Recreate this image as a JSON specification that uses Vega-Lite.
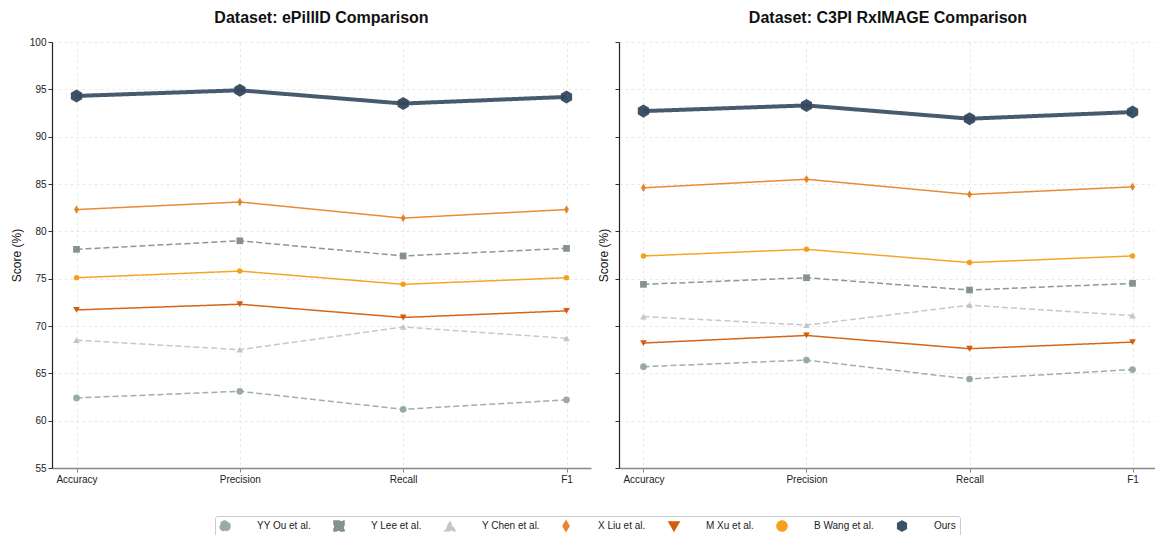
{
  "$schema": "https://vega.github.io/schema/vega-lite/v6.json",
  "padding": {"left": 10, "top": 9, "right": 0, "bottom": 0},
  "background": "white",
  "data": {"values": [
    {"dataset": "ePillID", "method": "YY Ou et al.", "metric": "Accuracy", "score": 62.4},
    {"dataset": "ePillID", "method": "YY Ou et al.", "metric": "Precision", "score": 63.1},
    {"dataset": "ePillID", "method": "YY Ou et al.", "metric": "Recall", "score": 61.2},
    {"dataset": "ePillID", "method": "YY Ou et al.", "metric": "F1", "score": 62.2},
    {"dataset": "ePillID", "method": "Y Lee et al.", "metric": "Accuracy", "score": 78.1},
    {"dataset": "ePillID", "method": "Y Lee et al.", "metric": "Precision", "score": 79.0},
    {"dataset": "ePillID", "method": "Y Lee et al.", "metric": "Recall", "score": 77.4},
    {"dataset": "ePillID", "method": "Y Lee et al.", "metric": "F1", "score": 78.2},
    {"dataset": "ePillID", "method": "Y Chen et al.", "metric": "Accuracy", "score": 68.5},
    {"dataset": "ePillID", "method": "Y Chen et al.", "metric": "Precision", "score": 67.5},
    {"dataset": "ePillID", "method": "Y Chen et al.", "metric": "Recall", "score": 69.9},
    {"dataset": "ePillID", "method": "Y Chen et al.", "metric": "F1", "score": 68.7},
    {"dataset": "ePillID", "method": "X Liu et al.", "metric": "Accuracy", "score": 82.3},
    {"dataset": "ePillID", "method": "X Liu et al.", "metric": "Precision", "score": 83.1},
    {"dataset": "ePillID", "method": "X Liu et al.", "metric": "Recall", "score": 81.4},
    {"dataset": "ePillID", "method": "X Liu et al.", "metric": "F1", "score": 82.3},
    {"dataset": "ePillID", "method": "M Xu et al.", "metric": "Accuracy", "score": 71.7},
    {"dataset": "ePillID", "method": "M Xu et al.", "metric": "Precision", "score": 72.3},
    {"dataset": "ePillID", "method": "M Xu et al.", "metric": "Recall", "score": 70.9},
    {"dataset": "ePillID", "method": "M Xu et al.", "metric": "F1", "score": 71.6},
    {"dataset": "ePillID", "method": "B Wang et al.", "metric": "Accuracy", "score": 75.1},
    {"dataset": "ePillID", "method": "B Wang et al.", "metric": "Precision", "score": 75.8},
    {"dataset": "ePillID", "method": "B Wang et al.", "metric": "Recall", "score": 74.4},
    {"dataset": "ePillID", "method": "B Wang et al.", "metric": "F1", "score": 75.1},
    {"dataset": "ePillID", "method": "Ours", "metric": "Accuracy", "score": 94.3},
    {"dataset": "ePillID", "method": "Ours", "metric": "Precision", "score": 94.9},
    {"dataset": "ePillID", "method": "Ours", "metric": "Recall", "score": 93.5},
    {"dataset": "ePillID", "method": "Ours", "metric": "F1", "score": 94.2},
    {"dataset": "C3PI", "method": "YY Ou et al.", "metric": "Accuracy", "score": 65.7},
    {"dataset": "C3PI", "method": "YY Ou et al.", "metric": "Precision", "score": 66.4},
    {"dataset": "C3PI", "method": "YY Ou et al.", "metric": "Recall", "score": 64.4},
    {"dataset": "C3PI", "method": "YY Ou et al.", "metric": "F1", "score": 65.4},
    {"dataset": "C3PI", "method": "Y Lee et al.", "metric": "Accuracy", "score": 74.4},
    {"dataset": "C3PI", "method": "Y Lee et al.", "metric": "Precision", "score": 75.1},
    {"dataset": "C3PI", "method": "Y Lee et al.", "metric": "Recall", "score": 73.8},
    {"dataset": "C3PI", "method": "Y Lee et al.", "metric": "F1", "score": 74.5},
    {"dataset": "C3PI", "method": "Y Chen et al.", "metric": "Accuracy", "score": 71.0},
    {"dataset": "C3PI", "method": "Y Chen et al.", "metric": "Precision", "score": 70.1},
    {"dataset": "C3PI", "method": "Y Chen et al.", "metric": "Recall", "score": 72.2},
    {"dataset": "C3PI", "method": "Y Chen et al.", "metric": "F1", "score": 71.1},
    {"dataset": "C3PI", "method": "X Liu et al.", "metric": "Accuracy", "score": 84.6},
    {"dataset": "C3PI", "method": "X Liu et al.", "metric": "Precision", "score": 85.5},
    {"dataset": "C3PI", "method": "X Liu et al.", "metric": "Recall", "score": 83.9},
    {"dataset": "C3PI", "method": "X Liu et al.", "metric": "F1", "score": 84.7},
    {"dataset": "C3PI", "method": "M Xu et al.", "metric": "Accuracy", "score": 68.2},
    {"dataset": "C3PI", "method": "M Xu et al.", "metric": "Precision", "score": 69.0},
    {"dataset": "C3PI", "method": "M Xu et al.", "metric": "Recall", "score": 67.6},
    {"dataset": "C3PI", "method": "M Xu et al.", "metric": "F1", "score": 68.3},
    {"dataset": "C3PI", "method": "B Wang et al.", "metric": "Accuracy", "score": 77.4},
    {"dataset": "C3PI", "method": "B Wang et al.", "metric": "Precision", "score": 78.1},
    {"dataset": "C3PI", "method": "B Wang et al.", "metric": "Recall", "score": 76.7},
    {"dataset": "C3PI", "method": "B Wang et al.", "metric": "F1", "score": 77.4},
    {"dataset": "C3PI", "method": "Ours", "metric": "Accuracy", "score": 92.7},
    {"dataset": "C3PI", "method": "Ours", "metric": "Precision", "score": 93.3},
    {"dataset": "C3PI", "method": "Ours", "metric": "Recall", "score": 91.9},
    {"dataset": "C3PI", "method": "Ours", "metric": "F1", "score": 92.6}
  ]},
  "spacing": 6,
  "hconcat": [
    {
      "width": 539,
      "height": 426,
      "title": {"text": "Dataset: ePillID Comparison", "offset": 11},
      "transform": [{"filter": "datum.dataset === 'ePillID'"}],
      "layer": [
        {
          "mark": {"type": "line", "opacity": 0.9},
          "encoding": {
            "x": {"field": "metric", "type": "nominal", "scale": {"type": "point", "domain": ["Accuracy", "Precision", "Recall", "F1"], "padding": 0.15}, "axis": {"title": null, "labelAngle": 0}},
            "y": {"field": "score", "type": "quantitative", "scale": {"domain": [55, 100], "nice": false, "zero": false}, "axis": {"title": "Score (%)", "values": [55, 60, 65, 70, 75, 80, 85, 90, 95, 100], "titlePadding": 6}},
            "color": {
              "field": "method", "type": "nominal",
              "scale": {"domain": ["YY Ou et al.", "Y Lee et al.", "Y Chen et al.", "X Liu et al.", "M Xu et al.", "B Wang et al.", "Ours"], "range": ["#95a5a6", "#7f8c8d", "#bdc3c7", "#e67e22", "#d35400", "#f39c12", "#34495e"]},
              "legend": {
                "orient": "none", "legendX": 163, "legendY": 474, "direction": "horizontal", "title": null,
                "labelFontSize": 10, "labelColor": "#222222", "labelOffset": 26, "columnPadding": 20,
                "padding": 4, "strokeColor": "#cccccc", "cornerRadius": 2, "symbolSize": 100, "symbolOpacity": 0.95
              }
            },
            "strokeDash": {"field": "method", "type": "nominal", "legend": null, "scale": {"domain": ["YY Ou et al.", "Y Lee et al.", "Y Chen et al.", "X Liu et al.", "M Xu et al.", "B Wang et al.", "Ours"], "range": [[6, 3], [6, 3], [6, 3], [1, 0], [1, 0], [1, 0], [1, 0]]}},
            "strokeWidth": {"condition": {"test": "datum.method === 'Ours'", "value": 4}, "value": 1.5}
          }
        },
        {
          "mark": {"type": "point", "filled": true, "opacity": 0.95},
          "encoding": {
            "x": {"field": "metric", "type": "nominal"},
            "y": {"field": "score", "type": "quantitative"},
            "color": {"field": "method", "type": "nominal", "legend": null},
            "shape": {"field": "method", "type": "nominal", "legend": null, "scale": {"domain": ["YY Ou et al.", "Y Lee et al.", "Y Chen et al.", "X Liu et al.", "M Xu et al.", "B Wang et al.", "Ours"], "range": ["circle", "square", "triangle-up", "M0,-1L0.6,0L0,1L-0.6,0Z", "triangle-down", "circle", "M0,-1L0.866,-0.5L0.866,0.5L0,1L-0.866,0.5L-0.866,-0.5Z"]}},
            "size": {"condition": [{"test": "datum.method === 'Ours'", "value": 170}, {"test": "datum.method === 'B Wang et al.'", "value": 30}, {"test": "datum.method === 'X Liu et al.'", "value": 70}], "value": 45}
          }
        }
      ]
    },
    {
      "width": 538,
      "height": 426,
      "title": {"text": "Dataset: C3PI RxIMAGE Comparison", "offset": 16},
      "transform": [{"filter": "datum.dataset === 'C3PI'"}],
      "layer": [
        {
          "mark": {"type": "line", "opacity": 0.9},
          "encoding": {
            "x": {"field": "metric", "type": "nominal", "scale": {"type": "point", "domain": ["Accuracy", "Precision", "Recall", "F1"], "padding": 0.15}, "axis": {"title": null, "labelAngle": 0}},
            "y": {"field": "score", "type": "quantitative", "scale": {"domain": [55, 100], "nice": false, "zero": false}, "axis": {"title": "Score (%)", "values": [55, 60, 65, 70, 75, 80, 85, 90, 95, 100], "labels": false, "titlePadding": 4}},
            "color": {"field": "method", "type": "nominal", "legend": null},
            "strokeDash": {"field": "method", "type": "nominal", "legend": null},
            "strokeWidth": {"condition": {"test": "datum.method === 'Ours'", "value": 4}, "value": 1.5}
          }
        },
        {
          "mark": {"type": "point", "filled": true, "opacity": 0.95},
          "encoding": {
            "x": {"field": "metric", "type": "nominal"},
            "y": {"field": "score", "type": "quantitative"},
            "color": {"field": "method", "type": "nominal", "legend": null},
            "shape": {"field": "method", "type": "nominal", "legend": null},
            "size": {"condition": [{"test": "datum.method === 'Ours'", "value": 170}, {"test": "datum.method === 'B Wang et al.'", "value": 30}, {"test": "datum.method === 'X Liu et al.'", "value": 70}], "value": 45}
          }
        }
      ]
    }
  ],
  "resolve": {"scale": {"color": "shared", "shape": "shared", "strokeDash": "shared"}},
  "config": {
    "font": "Liberation Sans",
    "view": {"stroke": null},
    "title": {"fontSize": 16, "fontWeight": "bold", "color": "#111111", "anchor": "middle", "font": "Liberation Sans"},
    "axis": {"labelFontSize": 10, "labelColor": "#222222", "titleFontSize": 12, "titleFontWeight": "normal", "titleColor": "#111111", "grid": true, "gridColor": "#e3e3e3", "gridDash": [3, 3], "gridWidth": 0.8, "tickColor": "#333333", "tickSize": 4, "labelPadding": 2},
    "axisX": {"domainColor": "#888888", "domainWidth": 1.5, "tickColor": "#888888"},
    "axisY": {"domainColor": "#222222", "domainWidth": 1.2}
  }
}
